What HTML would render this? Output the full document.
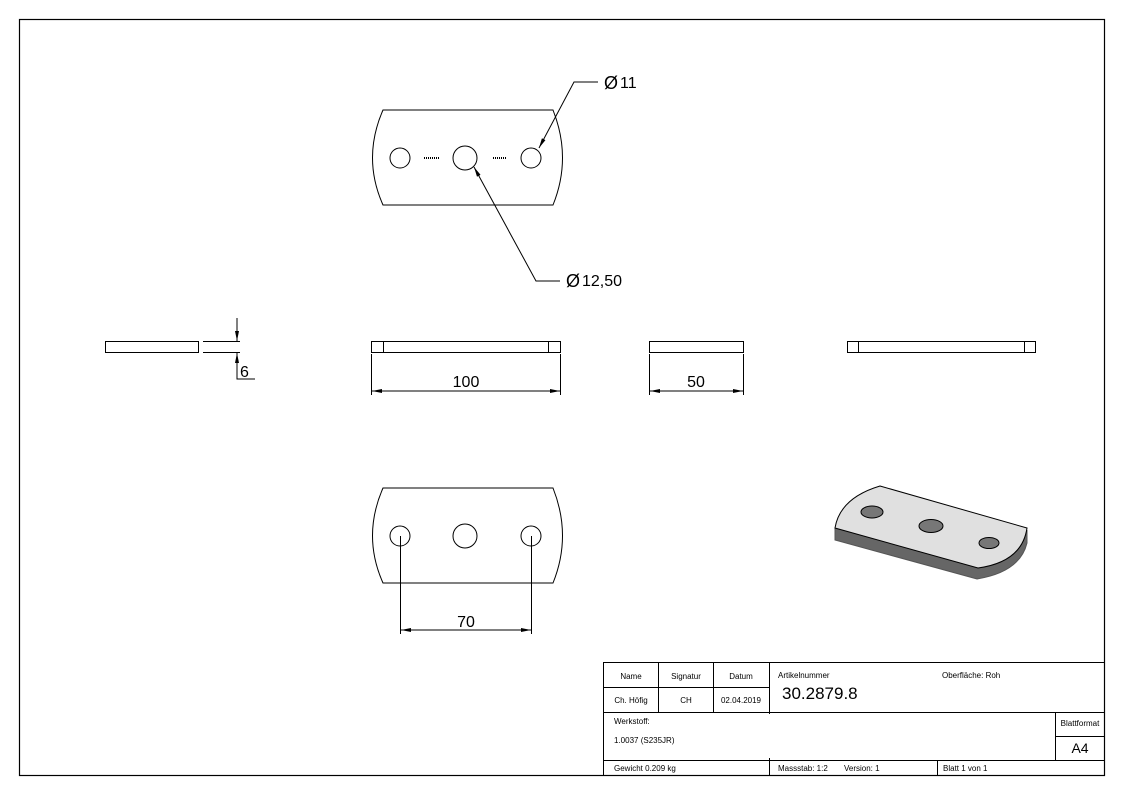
<!DOCTYPE html>
<html><head><meta charset="utf-8"><style>
body{margin:0;background:#fff}
svg{display:block}
text{font-family:"Liberation Sans",sans-serif;fill:#000}
</style></head><body>
<svg width="1123" height="794" viewBox="0 0 1123 794" xmlns="http://www.w3.org/2000/svg">
<defs><marker id="a" viewBox="0 0 10 4" refX="10" refY="2" markerWidth="10" markerHeight="4" orient="auto" markerUnits="userSpaceOnUse"><path d="M0,0L10,2L0,4z" fill="#000"/></marker></defs>
<rect x="19.5" y="19.5" width="1085" height="756" fill="none" stroke="#000" stroke-width="1.2"/>
<g fill="none" stroke="#000" stroke-width="1">
<path d="M383,110 L553,110 Q572,158 553,205 L383,205 Q362,158 383,110 Z"/>
<circle cx="400" cy="158" r="10"/><circle cx="465" cy="158" r="12"/><circle cx="531" cy="158" r="10"/>
<line x1="424" y1="158" x2="440" y2="158" stroke-width="2" stroke-dasharray="1 1"/>
<line x1="493" y1="158" x2="507" y2="158" stroke-width="2" stroke-dasharray="1 1"/>
<polyline points="598,82 574,82 539,148" marker-end="url(#a)"/>
<polyline points="560,281 536,281 474,167" marker-end="url(#a)"/>
<rect x="105.5" y="341.5" width="93" height="11"/>
<line x1="203" y1="341.5" x2="240" y2="341.5"/><line x1="203" y1="352.5" x2="240" y2="352.5"/>
<line x1="237" y1="318" x2="237" y2="341" marker-end="url(#a)"/>
<polyline points="255,379 237,379 237,353" marker-end="url(#a)"/>
<rect x="371.5" y="341.5" width="189" height="11"/>
<line x1="383.5" y1="341" x2="383.5" y2="352"/><line x1="548.5" y1="341" x2="548.5" y2="352"/>
<line x1="371.5" y1="354" x2="371.5" y2="395"/><line x1="560.5" y1="354" x2="560.5" y2="395"/>
<line x1="383" y1="391" x2="372" y2="391" marker-end="url(#a)"/><line x1="383" y1="391" x2="549" y2="391"/><line x1="549" y1="391" x2="560" y2="391" marker-end="url(#a)"/>
<rect x="649.5" y="341.5" width="94" height="11"/>
<line x1="649.5" y1="354" x2="649.5" y2="395"/><line x1="743.5" y1="354" x2="743.5" y2="395"/>
<line x1="660" y1="391" x2="650" y2="391" marker-end="url(#a)"/><line x1="660" y1="391" x2="733" y2="391"/><line x1="733" y1="391" x2="743" y2="391" marker-end="url(#a)"/>
<rect x="847.5" y="341.5" width="188" height="11"/>
<line x1="858.5" y1="341" x2="858.5" y2="352"/><line x1="1024.5" y1="341" x2="1024.5" y2="352"/>
<path d="M383,488 L553,488 Q572,536 553,583 L383,583 Q362,536 383,488 Z"/>
<circle cx="400" cy="536" r="10"/><circle cx="465" cy="536" r="12"/><circle cx="531" cy="536" r="10"/>
<line x1="400.5" y1="536" x2="400.5" y2="634"/><line x1="531.5" y1="536" x2="531.5" y2="634"/>
<line x1="412" y1="630" x2="401" y2="630" marker-end="url(#a)"/><line x1="412" y1="630" x2="520" y2="630"/><line x1="520" y1="630" x2="531" y2="630" marker-end="url(#a)"/>
</g>
<text x="604" y="89" font-size="18">Ø</text><text x="620" y="88" font-size="16">11</text>
<text x="566" y="287" font-size="18">Ø</text><text x="582" y="286" font-size="16">12,50</text>
<text x="240" y="377" font-size="16">6</text>
<text x="466" y="387" font-size="16" text-anchor="middle">100</text>
<text x="696" y="387" font-size="16" text-anchor="middle">50</text>
<text x="466" y="627" font-size="16" text-anchor="middle">70</text>
<g stroke="#000" stroke-width="1">
<path d="M835,528 L835,540 L977,579 Q1020,572 1027,543 L1027,530 Q1020,562 978,568 Z" fill="#666" stroke="#555"/>
<path d="M880,486 L1027,528 Q1022,562 978,568 L835,528 Q840,498 880,486 Z" fill="#e0e0e0"/>
<ellipse cx="872" cy="512" rx="11" ry="6" fill="#777"/>
<ellipse cx="931" cy="526" rx="12" ry="6.5" fill="#777"/>
<ellipse cx="989" cy="543" rx="10" ry="5.5" fill="#777"/>
</g>
<g fill="none" stroke="#000" stroke-width="1">
<rect x="603.5" y="662.5" width="501" height="113"/>
<line x1="603" y1="712.5" x2="1104" y2="712.5"/>
<line x1="603" y1="760.5" x2="1104" y2="760.5"/>
<line x1="603" y1="687.5" x2="769" y2="687.5"/>
<line x1="658.5" y1="662" x2="658.5" y2="712"/>
<line x1="713.5" y1="662" x2="713.5" y2="712"/>
<line x1="769.5" y1="662" x2="769.5" y2="714"/>
<line x1="769.5" y1="758" x2="769.5" y2="775"/>
<line x1="937.5" y1="760" x2="937.5" y2="775"/>
<line x1="1055.5" y1="712" x2="1055.5" y2="760"/>
<line x1="1055" y1="736.5" x2="1104" y2="736.5"/>
</g>
<g font-size="8">
<text x="631" y="679" text-anchor="middle">Name</text>
<text x="686" y="679" text-anchor="middle">Signatur</text>
<text x="741" y="679" text-anchor="middle">Datum</text>
<text x="631" y="703" text-anchor="middle">Ch. Höfig</text>
<text x="686" y="703" text-anchor="middle">CH</text>
<text x="741" y="703" text-anchor="middle">02.04.2019</text>
<text x="778" y="678">Artikelnummer</text>
<text x="942" y="678">Oberfläche:  Roh</text>
<text x="614" y="724">Werkstoff:</text>
<text x="614" y="743">1.0037 (S235JR)</text>
<text x="1080" y="726" text-anchor="middle">Blattformat</text>
<text x="614" y="771">Gewicht 0.209 kg</text>
<text x="778" y="771">Massstab: 1:2</text>
<text x="844" y="771">Version: 1</text>
<text x="943" y="771">Blatt 1 von 1</text>
</g>
<text x="782" y="699" font-size="17">30.2879.8</text>
<text x="1080" y="753" font-size="14" text-anchor="middle">A4</text>
</svg>
</body></html>
